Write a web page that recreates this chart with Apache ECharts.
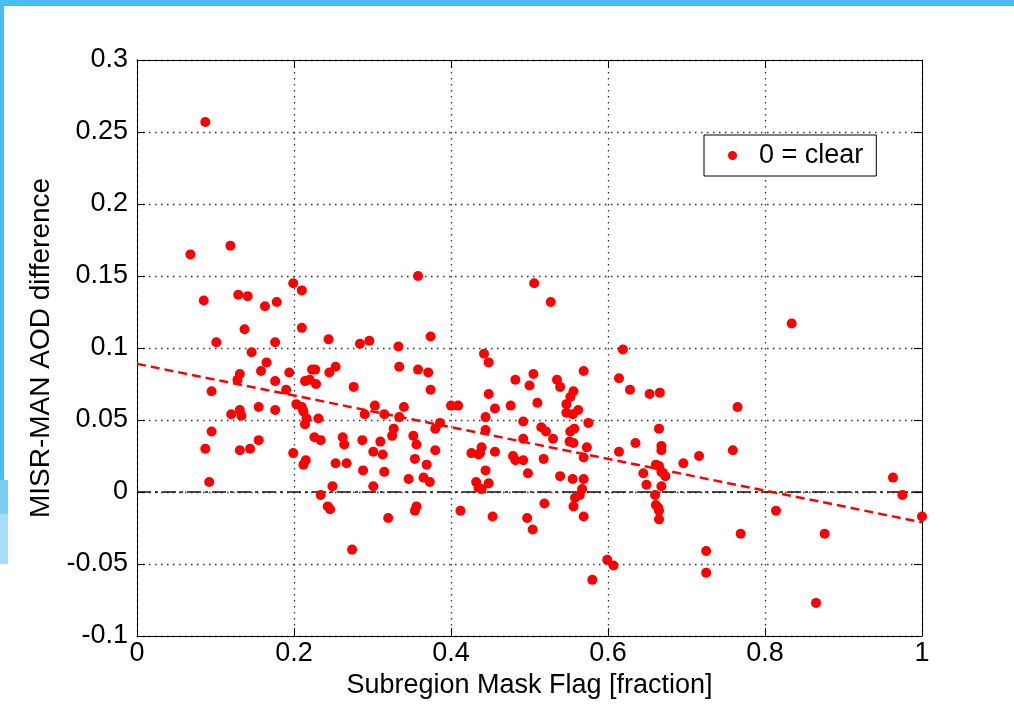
<!DOCTYPE html>
<html>
<head>
<meta charset="utf-8">
<script src="https://cdn.jsdelivr.net/npm/echarts@6/dist/echarts.min.js"></script>
<style>
  html, body { margin: 0; padding: 0; background: #ffffff; }
  #chart { width: 1014px; height: 706px; }
</style>
</head>
<body>
<div id="chart"></div>
<script>
// Subregion mask fraction (x) and MISR minus MAN AOD difference (y), one entry per site/day
const maskFraction = [
  0.087, 0.068, 0.119, 0.199, 0.210, 0.085, 0.129, 0.141, 0.163, 0.178,
  0.137, 0.210, 0.101, 0.176, 0.244, 0.284, 0.296, 0.333, 0.146, 0.165,
  0.158, 0.131, 0.128, 0.194, 0.223, 0.227, 0.253, 0.245, 0.176, 0.214,
  0.220, 0.228, 0.334, 0.095, 0.190, 0.276, 0.203, 0.210, 0.212, 0.303,
  0.290, 0.315, 0.155, 0.176, 0.120, 0.131, 0.133, 0.216, 0.231, 0.214,
  0.334, 0.327, 0.325, 0.095, 0.087, 0.131, 0.144, 0.155, 0.226, 0.234,
  0.262, 0.264, 0.287, 0.310, 0.301, 0.313, 0.199, 0.212, 0.215, 0.253,
  0.267, 0.288, 0.315, 0.092, 0.249, 0.301, 0.234, 0.243, 0.246, 0.320,
  0.274, 0.358, 0.506, 0.527, 0.374, 0.442, 0.448, 0.619, 0.358, 0.371,
  0.374, 0.482, 0.505, 0.500, 0.535, 0.539, 0.569, 0.614, 0.628, 0.653,
  0.666, 0.448, 0.556, 0.552, 0.547, 0.510, 0.340, 0.400, 0.409, 0.456,
  0.476, 0.562, 0.547, 0.555, 0.444, 0.492, 0.575, 0.386, 0.380, 0.515,
  0.521, 0.552, 0.557, 0.444, 0.352, 0.356, 0.380, 0.492, 0.530, 0.551,
  0.556, 0.573, 0.635, 0.665, 0.668, 0.668, 0.614, 0.426, 0.437, 0.439,
  0.435, 0.456, 0.354, 0.369, 0.479, 0.482, 0.492, 0.518, 0.569, 0.661,
  0.645, 0.444, 0.498, 0.539, 0.346, 0.365, 0.373, 0.432, 0.555, 0.569,
  0.435, 0.439, 0.448, 0.567, 0.564, 0.558, 0.556, 0.569, 0.519, 0.497,
  0.504, 0.453, 0.412, 0.356, 0.354, 0.599, 0.607, 0.580, 0.649, 0.660,
  0.661, 0.665, 0.665, 0.665, 0.664, 0.834, 0.765, 0.759, 0.716, 0.696,
  0.668, 0.673, 0.668, 0.963, 0.975, 0.814, 0.769, 0.725, 0.725, 0.876,
  0.865, 1.000
];
const aodDifference = [
  0.257, 0.165, 0.171, 0.145, 0.140, 0.133, 0.137, 0.136, 0.129, 0.132,
  0.113, 0.114, 0.104, 0.104, 0.106, 0.103, 0.105, 0.101, 0.097, 0.090,
  0.084, 0.082, 0.078, 0.083, 0.085, 0.085, 0.087, 0.083, 0.077, 0.077,
  0.078, 0.075, 0.087, 0.070, 0.071, 0.073, 0.061, 0.059, 0.056, 0.060,
  0.054, 0.054, 0.059, 0.057, 0.054, 0.057, 0.053, 0.051, 0.051, 0.047,
  0.052, 0.044, 0.039, 0.042, 0.030, 0.029, 0.030, 0.036, 0.038, 0.036,
  0.038, 0.033, 0.036, 0.035, 0.028, 0.026, 0.027, 0.019, 0.022, 0.020,
  0.020, 0.015, 0.014, 0.007, 0.004, 0.004, -0.002, -0.010, -0.012, -0.018,
  -0.040, 0.150, 0.145, 0.132, 0.108, 0.096, 0.090, 0.099, 0.085, 0.083,
  0.071, 0.078, 0.082, 0.074, 0.078, 0.073, 0.084, 0.079, 0.071, 0.068,
  0.069, 0.068, 0.070, 0.066, 0.061, 0.062, 0.059, 0.060, 0.060, 0.058,
  0.060, 0.057, 0.055, 0.054, 0.052, 0.049, 0.048, 0.048, 0.044, 0.045,
  0.042, 0.042, 0.044, 0.043, 0.039, 0.033, 0.029, 0.037, 0.037, 0.035,
  0.034, 0.031, 0.034, 0.044, 0.032, 0.029, 0.028, 0.027, 0.027, 0.031,
  0.026, 0.028, 0.023, 0.019, 0.025, 0.022, 0.022, 0.023, 0.024, 0.019,
  0.013, 0.015, 0.013, 0.011, 0.009, 0.010, 0.007, 0.007, 0.009, 0.009,
  0.003, 0.002, 0.006, 0.002, -0.002, -0.004, -0.010, -0.017, -0.008, -0.018,
  -0.026, -0.017, -0.013, -0.010, -0.013, -0.047, -0.051, -0.061, 0.005, -0.002,
  -0.009, -0.013, -0.019, 0.018, -0.011, 0.117, 0.059, 0.029, 0.025, 0.020,
  0.014, 0.011, 0.004, 0.010, -0.002, -0.013, -0.029, -0.041, -0.056, -0.029,
  -0.077, -0.017
];

// Least-squares fit endpoints and the zero reference line
const fitX = [0, 1];
const fitY = [0.089, -0.021];
const zeroX = [0, 1];
const zeroY = [0, 0];

const seriesName = '0 = clear';
const xAxisTitle = 'Subregion Mask Flag [fraction]';
const yAxisTitle = 'MISR-MAN AOD difference';

const FONT = '"Liberation Sans", Arial, Helvetica, sans-serif';

const points = maskFraction.map((x, i) => [x, aodDifference[i]]);
const fitPoints = fitX.map((x, i) => [x, fitY[i]]);
const zeroPoints = zeroX.map((x, i) => [x, zeroY[i]]);

const tickFmt = v => String(Math.round(v * 100) / 100);

const dotted = { color: '#333', width: 1.3, type: [1.5, 4.5] };

const chart = echarts.init(document.getElementById('chart'), null, { renderer: 'canvas' });
chart.setOption({
  backgroundColor: '#ffffff',
  animation: false,
  grid: { left: 137, right: 92, top: 60, bottom: 70, containLabel: false },
  graphic: [
    { type: 'rect', shape: { x: 0, y: 0, width: 1014, height: 6 }, style: { fill: '#47bdf0' }, silent: true },
    { type: 'rect', shape: { x: 0, y: 0, width: 4, height: 512 }, style: { fill: '#47bdf0' }, silent: true },
    { type: 'rect', shape: { x: 0, y: 480, width: 8, height: 34 }, style: { fill: '#7ccff4' }, silent: true },
    { type: 'rect', shape: { x: 0, y: 514, width: 8, height: 50 }, style: { fill: '#a8ddf8' }, silent: true }
  ],
  legend: {
    left: 704,
    top: 135,
    orient: 'vertical',
    data: [{ name: seriesName, icon: 'circle' }],
    itemWidth: 9,
    itemHeight: 9,
    padding: [7, 13, 7, 24],
    backgroundColor: '#ffffff',
    borderColor: '#000000',
    borderWidth: 1,
    borderRadius: 0,
    textStyle: { fontFamily: FONT, fontSize: 27, color: '#000', padding: [0, 0, 0, 17], lineHeight: 27 }
  },
  xAxis: [
    {
      type: 'value', min: 0, max: 1, interval: 0.2, position: 'bottom',
      name: xAxisTitle, nameLocation: 'middle', nameGap: 36,
      nameTextStyle: { fontFamily: FONT, fontSize: 27, color: '#000' },
      axisLine: { show: true, onZero: false, lineStyle: { color: '#000', width: 1 } },
      axisTick: { show: true, inside: true, length: 8, lineStyle: { color: '#000' } },
      axisLabel: { fontFamily: FONT, fontSize: 27, color: '#000', margin: 4, formatter: tickFmt },
      splitLine: { show: true, lineStyle: dotted }
    },
    {
      type: 'value', min: 0, max: 1, interval: 0.2, position: 'top',
      axisLine: { show: true, onZero: false, lineStyle: { color: '#000', width: 1 } },
      axisTick: { show: true, inside: true, length: 8, lineStyle: { color: '#000' } },
      axisLabel: { show: false },
      splitLine: { show: false }
    }
  ],
  yAxis: [
    {
      type: 'value', min: -0.1, max: 0.3, interval: 0.05, position: 'left',
      name: yAxisTitle, nameLocation: 'middle', nameGap: 80,
      nameTextStyle: { fontFamily: FONT, fontSize: 28, color: '#000' },
      axisLine: { show: true, onZero: false, lineStyle: { color: '#000', width: 1 } },
      axisTick: { show: true, inside: true, length: 8, lineStyle: { color: '#000' } },
      axisLabel: { fontFamily: FONT, fontSize: 27, color: '#000', margin: 9, formatter: tickFmt },
      splitLine: { show: true, lineStyle: dotted }
    },
    {
      type: 'value', min: -0.1, max: 0.3, interval: 0.05, position: 'right',
      axisLine: { show: true, onZero: false, lineStyle: { color: '#000', width: 1 } },
      axisTick: { show: true, inside: true, length: 8, lineStyle: { color: '#000' } },
      axisLabel: { show: false },
      splitLine: { show: false }
    }
  ],
  series: [
    {
      name: 'zero', type: 'line', data: zeroPoints, symbol: 'none', silent: true,
      lineStyle: { color: '#111', width: 1.5, type: [14, 4, 3, 4] }, z: 2
    },
    {
      name: 'fit', type: 'line', data: fitPoints, symbol: 'none', silent: true,
      lineStyle: { color: '#ff0000', width: 2.5, type: [9, 5] }, z: 3
    },
    {
      name: seriesName, type: 'scatter', data: points, symbol: 'circle', symbolSize: 10,
      itemStyle: { color: '#ff0000', opacity: 1 }, z: 4
    }
  ]
});
</script>
</body>
</html>
